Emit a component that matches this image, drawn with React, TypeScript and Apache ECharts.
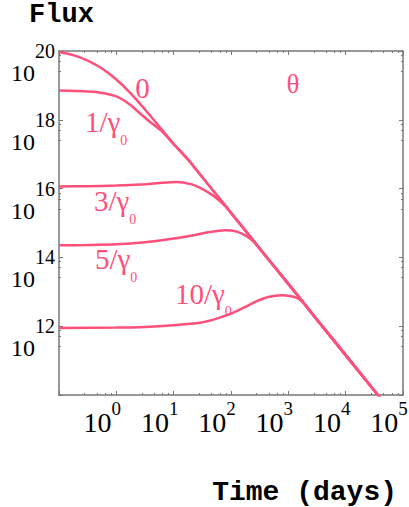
import React, { useEffect, useRef } from 'react';
import * as echarts from 'echarts';

// ---- data (log10 of time in days, log10 of flux) ----
const curveLabels = ['0', '1/γ0', '3/γ0', '5/γ0', '10/γ0'];

const logT_0 = [-1, -0.75, -0.5, -0.25, 0, 0.25, 0.5, 0.75, 1.0, 1.25];
const logF_0 = [19.97, 19.88, 19.72, 19.49, 19.17, 18.77, 18.3, 17.8, 17.3, 16.85];

const logT_1 = [-1, -0.5, -0.25, 0, 0.24, 0.41, 0.6, 0.8, 1.0, 1.25];
const logF_1 = [18.85, 18.82, 18.78, 18.68, 18.44, 18.19, 17.92, 17.66, 17.29, 16.84];

const logT_3 = [-1, -0.5, 0, 0.5, 0.8, 1.05, 1.3, 1.46, 1.63, 1.77, 1.9, 2.0];
const logF_3 = [16.06, 16.07, 16.09, 16.13, 16.17, 16.19, 16.13, 16.02, 15.86, 15.69, 15.49, 15.29];

const logT_5 = [-1, -0.5, 0, 0.5, 0.88, 1.3, 1.6, 1.9, 2.1, 2.27, 2.4, 2.5];
const logF_5 = [14.35, 14.36, 14.38, 14.44, 14.52, 14.63, 14.73, 14.79, 14.75, 14.62, 14.45, 14.25];

const logT_10 = [-1, 0, 0.5, 1.0, 1.46, 1.75, 2.03, 2.25, 2.45, 2.65, 2.885, 3.05, 3.15, 3.25, 3.35];
const logF_10 = [11.95, 11.96, 11.98, 12.03, 12.1, 12.22, 12.39, 12.56, 12.73, 12.85, 12.9, 12.87, 12.82, 12.7, 12.5];

// common late-time power-law decline
const tailLogT = [1.5, 2.0, 2.5, 3.0, 3.5, 4.0, 4.6];
const tailLogF = [16.33, 15.3, 14.26, 13.23, 12.19, 11.16, 9.92];

const xTickExponents = [0, 1, 2, 3, 4, 5];
const yTickExponents = [12, 14, 16, 18, 20];

const COLOR = '#FF4F7B';
const SERIF = '"Liberation Serif", "Times New Roman", serif';
const MONO = '"Liberation Mono", "Courier New", monospace';
const AXIS = '#777';

function buildData(lt: number[], lf: number[]) {
  const last = lt[lt.length - 1];
  const pts: number[][] = lt.map((v, i) => [Math.pow(10, v), Math.pow(10, lf[i])]);
  tailLogT.forEach((v, i) => {
    if (v > last) pts.push([Math.pow(10, v), Math.pow(10, tailLogF[i])]);
  });
  return pts;
}

const curveT = [logT_0, logT_1, logT_3, logT_5, logT_10];
const curveF = [logF_0, logF_1, logF_3, logF_5, logF_10];

const expOf = (v: number) => {
  const l = Math.log10(v);
  const r = Math.round(l);
  return Math.abs(l - r) < 1e-6 ? r : NaN;
};

const xRich = {
  b: { fontFamily: SERIF, fontSize: 28, lineHeight: 37, color: '#000', verticalAlign: 'bottom' },
  e: { fontFamily: SERIF, fontSize: 19, lineHeight: 19, color: '#000', verticalAlign: 'top' },
};
const yRich = {
  b: { fontFamily: SERIF, fontSize: 24, lineHeight: 68, color: '#000', verticalAlign: 'bottom' },
  e: { fontFamily: SERIF, fontSize: 20, lineHeight: 20, color: '#000', verticalAlign: 'middle' },
};

const annRich = {
  m: { fontFamily: SERIF, fontSize: 29, lineHeight: 29, fill: COLOR, verticalAlign: 'top' },
  s: { fontFamily: SERIF, fontSize: 14, lineHeight: 39.5, fill: COLOR, verticalAlign: 'bottom' },
};

function annot(x: number, y: number, main: string, sub: string) {
  return {
    type: 'text',
    x,
    y,
    silent: true,
    style: {
      text: `{m|${main}}{s|${sub}}`,
      rich: annRich,
      align: 'left',
      verticalAlign: 'top',
      fill: COLOR,
    },
  };
}

const commonX = {
  type: 'log',
  logBase: 10,
  min: 0.1,
  max: 100000,
  splitLine: { show: false },
  minorSplitLine: { show: false },
  axisLine: { show: true, lineStyle: { color: AXIS, width: 1.5 } },
  axisTick: { show: true, inside: true, length: 4, lineStyle: { color: AXIS, width: 1 } },
  minorTick: { show: true, splitNumber: 5, length: 2, lineStyle: { color: AXIS, width: 1 } },
};
const commonY = {
  type: 'log',
  logBase: 10,
  min: 1e10,
  max: 1e20,
  interval: 2,
  splitLine: { show: false },
  minorSplitLine: { show: false },
  axisLine: { show: true, lineStyle: { color: AXIS, width: 1.5 } },
  axisTick: { show: true, inside: true, length: 4, lineStyle: { color: AXIS, width: 1 } },
  minorTick: { show: true, splitNumber: 4, length: 2, lineStyle: { color: AXIS, width: 1 } },
};

export default function App() {
  const ref = useRef<HTMLDivElement>(null);
  useEffect(() => {
    const chart = echarts.init(ref.current!, null, { renderer: 'svg' });
    const option: any = {
      animation: false,
      backgroundColor: '#fff',
      grid: { left: 59, top: 51, right: 6, bottom: 112, containLabel: false, outerBoundsMode: 'none' },
      xAxis: [
        {
          ...commonX,
          position: 'bottom',
          name: 'Time (days)',
          nameLocation: 'end',
          nameGap: -6,
          nameTextStyle: {
            fontFamily: MONO,
            fontWeight: 'bold',
            fontSize: 28,
            color: '#000',
            align: 'right',
            verticalAlign: 'top',
            padding: [83, 0, 0, 0],
          },
          axisLabel: {
            show: true,
            margin: 4,
            align: 'center',
            padding: [0, 0, 0, -28],
            formatter: (v: number) => {
              const e = expOf(v);
              return xTickExponents.includes(e) ? `{b|10}{e|${e}}` : '';
            },
            rich: xRich,
          },
        },
        { ...commonX, position: 'top', axisLabel: { show: false } },
      ],
      yAxis: [
        {
          ...commonY,
          position: 'left',
          name: 'Flux',
          nameLocation: 'end',
          nameGap: 23,
          nameTextStyle: {
            fontFamily: MONO,
            fontWeight: 'bold',
            fontSize: 27,
            color: '#000',
            align: 'center',
            verticalAlign: 'bottom',
            padding: [0, 0, 0, 5],
          },
          axisLabel: {
            show: true,
            margin: 4,
            align: 'right',
            verticalAlign: 'middle',
            padding: [-20, 0, -20, 0],
            formatter: (v: number) => {
              const e = expOf(v);
              return yTickExponents.includes(e) ? `{b|10}{e|${e}}` : '';
            },
            rich: yRich,
          },
        },
        { ...commonY, position: 'right', axisLabel: { show: false } },
      ],
      series: curveLabels.map((name, i) => ({
        name,
        type: 'line',
        xAxisIndex: 0,
        yAxisIndex: 0,
        data: buildData(curveT[i], curveF[i]),
        showSymbol: false,
        symbol: 'none',
        smooth: 0.25,
        clip: true,
        lineStyle: { color: COLOR, width: 2.5 },
      })),
      graphic: [
        {
          type: 'text',
          x: 142.5,
          y: 87.5,
          silent: true,
          style: { text: '0', fill: COLOR, fontFamily: SERIF, fontSize: 29, align: 'center', verticalAlign: 'middle' },
        },
        {
          type: 'text',
          x: 293,
          y: 84,
          silent: true,
          style: { text: 'θ', fill: COLOR, fontFamily: SERIF, fontSize: 27, align: 'center', verticalAlign: 'middle' },
        },
        annot(85, 107.5, '1/γ', '0'),
        annot(94, 186.5, '3/γ', '0'),
        annot(95, 244.5, '5/γ', '0'),
        annot(175, 279, '10/γ', '0'),
      ],
    };
    chart.setOption(option);
    return () => chart.dispose();
  }, []);
  return <div ref={ref} style={{ position: 'absolute', left: 0, top: 0, width: 409, height: 507 }} />;
}
